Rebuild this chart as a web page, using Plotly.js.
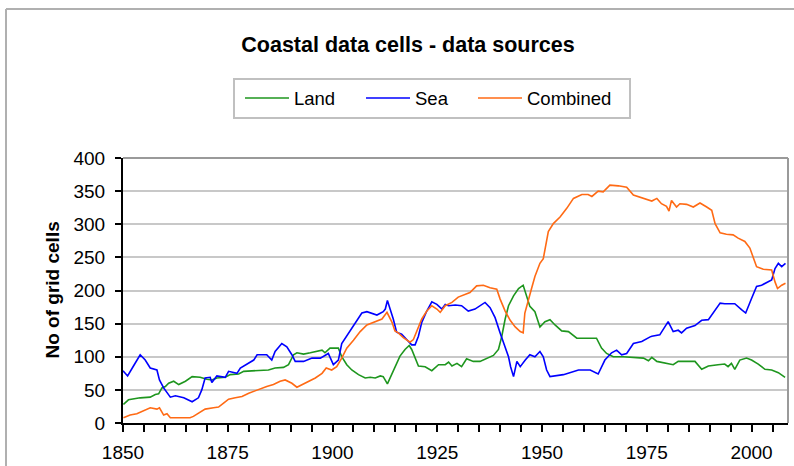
<!DOCTYPE html>
<html>
<head>
<meta charset="utf-8">
<script src="https://cdn.plot.ly/plotly-3.0.1.min.js"></script>
<style>
html,body{margin:0;padding:0;background:#fff;}
#chart{width:794px;height:466px;}
</style>
</head>
<body>
<div id="chart"></div>
<script>
// ---- Data ----
var seriesNames = ["Land", "Sea", "Combined"];

var landYears = [1850.1,1851.3,1854.1,1856.5,1857.7,1858.5,1859.3,1860.1,1860.9,1862.1,1863.3,1864.9,1866.5,1868.4,1870.0,1871.2,1872.4,1874.4,1875.6,1877.6,1878.8,1881.2,1882.7,1884.7,1886.3,1888.3,1889.5,1890.7,1891.5,1893.1,1894.7,1896.3,1897.5,1898.2,1899.4,1901.4,1902.2,1903.4,1904.6,1906.2,1907.8,1909.0,1910.2,1911.4,1912.1,1913.1,1914.2,1915.3,1916.1,1917.3,1918.3,1918.9,1919.7,1920.5,1922.1,1923.7,1925.3,1926.9,1927.7,1928.5,1929.7,1930.8,1932.0,1933.6,1935.2,1936.8,1938.4,1939.6,1940.4,1941.2,1942.0,1943.2,1944.4,1945.5,1946.3,1947.1,1948.3,1949.5,1950.7,1951.9,1953.1,1954.7,1956.3,1958.3,1963.0,1964.2,1965.4,1967.0,1969.4,1971.8,1974.2,1975.4,1976.2,1977.4,1979.3,1981.3,1982.5,1986.5,1988.1,1989.7,1992.0,1993.6,1994.4,1995.2,1996.0,1997.2,1998.8,2000.0,2001.6,2003.2,2004.8,2006.4,2008.0];
var landValues = [28,35,38,39,43,44,53,55,60,63,58,63,70,69,66,65,68,69,73,74,78,79,80,80,83,84,88,103,106,104,106,108,110,106,113,113,100,88,80,73,68,69,68,71,70,59,75,91,101,111,117,111,98,86,85,79,88,88,92,86,90,85,97,93,93,97,102,111,131,157,177,192,203,208,191,176,168,145,153,156,148,139,138,128,128,113,105,100,100,99,98,94,99,93,90,88,93,93,81,86,88,89,85,90,81,95,98,95,89,81,80,76,69];

var seaYears = [1850.0,1851.1,1852.5,1854.1,1855.3,1856.5,1858.1,1858.7,1859.7,1861.3,1862.5,1864.5,1866.5,1868.0,1868.8,1869.6,1870.8,1871.2,1872.4,1874.4,1875.2,1877.2,1878.0,1880.0,1881.2,1882.0,1884.3,1885.5,1886.3,1887.9,1889.1,1890.3,1891.1,1893.1,1895.1,1897.1,1899.0,1900.2,1901.4,1902.2,1903.8,1905.4,1907.0,1908.2,1910.6,1912.1,1912.6,1913.1,1913.8,1914.5,1915.3,1916.5,1917.7,1918.9,1919.7,1920.5,1921.3,1922.5,1923.7,1924.9,1926.1,1926.9,1927.7,1929.3,1930.8,1932.4,1934.0,1935.2,1936.4,1937.6,1938.8,1940.0,1941.2,1942.0,1942.5,1943.2,1944.0,1944.8,1946.0,1947.1,1948.3,1949.5,1950.3,1951.1,1951.9,1955.1,1958.7,1961.5,1963.4,1965.0,1966.6,1967.8,1969.0,1970.2,1971.8,1973.8,1975.8,1976.2,1978.1,1980.1,1981.3,1982.5,1983.3,1984.5,1986.5,1988.1,1989.7,1990.9,1992.5,1993.6,1996.0,1997.6,1998.6,2000.0,2001.2,2002.4,2004.0,2004.8,2005.6,2006.4,2007.2,2008.1];
var seaValues = [79,71,86,103,95,83,80,65,53,39,41,38,32,38,50,68,69,61,71,69,78,75,83,91,95,103,103,95,108,120,115,103,93,93,98,98,105,88,95,120,135,151,166,168,163,168,172,185,172,157,137,134,126,118,118,131,152,169,183,179,172,179,177,178,177,169,172,177,182,174,159,136,116,100,85,70,93,85,95,103,100,108,100,80,70,73,80,80,74,95,106,110,103,105,120,123,130,131,133,153,138,140,136,143,147,155,156,166,181,180,180,171,166,188,206,208,213,216,233,241,236,241];

var combinedYears = [1850.1,1851.7,1853.3,1854.9,1856.5,1858.1,1858.7,1859.7,1860.5,1861.3,1866.0,1866.8,1868.0,1869.6,1871.6,1872.8,1874.0,1875.2,1876.8,1878.4,1880.0,1881.2,1882.3,1884.3,1885.9,1887.5,1888.7,1890.3,1891.5,1893.1,1894.7,1895.9,1897.5,1898.5,1899.8,1901.0,1902.2,1903.4,1905.0,1906.6,1908.2,1910.2,1911.8,1913.0,1914.2,1914.9,1915.7,1916.9,1918.5,1919.3,1920.1,1921.3,1922.5,1923.7,1924.9,1925.7,1926.9,1928.5,1930.0,1931.7,1932.8,1934.4,1936.0,1937.6,1939.2,1940.0,1941.2,1942.4,1943.6,1944.8,1945.5,1945.9,1946.7,1947.5,1948.3,1949.5,1950.3,1950.7,1951.5,1952.7,1954.3,1955.9,1957.5,1959.5,1961.0,1961.9,1963.4,1964.6,1966.2,1968.2,1970.2,1971.8,1973.8,1975.4,1976.2,1977.4,1978.5,1979.7,1980.3,1980.9,1982.1,1982.9,1984.5,1986.1,1987.7,1989.3,1990.5,1991.3,1992.5,1994.0,1995.6,1996.8,1998.4,1999.6,2000.4,2001.2,2002.8,2004.8,2005.6,2006.2,2007.2,2008.1];
var combinedValues = [8,12,14,19,23,21,23,12,14,8,8,10,15,21,23,24,30,36,38,40,45,48,50,55,58,63,65,60,54,59,65,68,75,83,80,85,98,113,125,138,148,153,157,167,152,139,136,129,122,126,139,157,169,177,172,167,177,182,190,195,197,207,208,204,202,187,169,155,145,138,136,166,186,203,221,241,248,264,289,301,311,324,339,345,345,342,350,349,359,358,356,344,340,336,335,339,331,327,320,336,326,331,330,326,332,326,321,301,287,285,284,279,274,264,250,236,232,231,213,203,208,211];

var xTickYears = [1850, 1875, 1900, 1925, 1950, 1975, 2000];
var yTickValues = [0, 50, 100, 150, 200, 250, 300, 350, 400];

var chartTitle = "Coastal data cells - data sources";
var yTitle = "No of grid cells";

// ---- Chart ----
var FONT = "Arial, 'Liberation Sans', sans-serif";
var colors = ["#1e961e", "#0000ff", "#ff6a14"];
var xs = [landYears, seaYears, combinedYears];
var ys = [landValues, seaValues, combinedValues];
var legendIds = ["legend", "legend2", "legend3"];
var legendPx = [250, 371, 483];   // pixel x where each legend sample line starts

// plot area in pixels
var PL = 123, PR = 788, PT = 158, PB = 423;
function px2x(p) { return (p - PL) / (PR - PL); }
function py2y(p) { return (PB - p) / (PB - PT); }

var traces = seriesNames.map(function (n, i) {
  return {
    type: "scatter", mode: "lines", name: n,
    x: xs[i], y: ys[i],
    line: {color: colors[i], width: 1.6},
    legend: legendIds[i],
    hoverinfo: "x+y+name"
  };
});

function legendCfg(i) {
  return {
    orientation: "h",
    x: px2x(legendPx[i] - 10), xanchor: "left",
    y: py2y(98.5), yanchor: "middle",
    bgcolor: "rgba(0,0,0,0)", borderwidth: 0,
    font: {family: FONT, size: 18.5, color: "#000"},
    itemwidth: 44
  };
}

var layout = {
  width: 794, height: 466,
  margin: {l: PL, r: 794 - PR, t: PT, b: 466 - PB, pad: 0},
  paper_bgcolor: "#fff", plot_bgcolor: "#fff",
  font: {family: FONT, color: "#000", size: 19},
  title: {
    text: chartTitle,
    font: {family: FONT, size: 21.5, weight: "bold", color: "#000"},
    x: 408 / 794, xref: "container", xanchor: "center",
    y: 1 - 44 / 466, yref: "container", yanchor: "middle"
  },
  showlegend: true,
  legend: legendCfg(0),
  legend2: legendCfg(1),
  legend3: legendCfg(2),
  xaxis: {
    range: [1850, 2008.7],
    tickvals: xTickYears,
    ticktext: xTickYears.map(String),
    ticks: "outside", ticklen: 7, tickwidth: 2, tickcolor: "#000",
    minor: {dtick: 5, tick0: 1850, ticks: "outside", ticklen: 7, tickwidth: 2, tickcolor: "#000", showgrid: false},
    showline: true, linecolor: "#000", linewidth: 2,
    showgrid: false, zeroline: false,
    tickfont: {family: FONT, size: 19, color: "#000"},
    ticklabelstandoff: 4,
    fixedrange: true
  },
  yaxis: {
    range: [0, 400],
    tickvals: yTickValues,
    ticks: "outside", ticklen: 6, tickwidth: 2, tickcolor: "#000",
    showline: true, linecolor: "#000", linewidth: 2,
    showgrid: true, gridcolor: "#c8c8c8", gridwidth: 2,
    zeroline: false,
    tickfont: {family: FONT, size: 19, color: "#000"},
    ticklabelstandoff: 6,
    fixedrange: true
  },
  annotations: [{
    text: "<b>" + yTitle + "</b>",
    xref: "paper", yref: "paper",
    x: px2x(52), y: 0.5,
    xanchor: "center", yanchor: "middle",
    textangle: -90, showarrow: false,
    font: {family: FONT, size: 19, color: "#000"}
  }],
  shapes: [
    // plot frame (grey top / right)
    {type: "line", xref: "paper", yref: "paper", x0: 0, x1: 1, y0: 1, y1: 1, line: {color: "#9a9a9a", width: 2}},
    {type: "line", xref: "paper", yref: "paper", x0: 1, x1: 1, y0: 0, y1: 1, line: {color: "#9a9a9a", width: 2}},
    // legend box
    {type: "rect", xref: "paper", yref: "paper", x0: px2x(234), x1: px2x(630), y0: py2y(118), y1: py2y(79), line: {color: "#c0c0c0", width: 2}},
    // outer chart border
    {type: "line", xref: "paper", yref: "paper", x0: px2x(6), x1: 1.2, y0: py2y(9), y1: py2y(9), line: {color: "#b0b0b0", width: 2}},
    {type: "line", xref: "paper", yref: "paper", x0: px2x(6), x1: px2x(6), y0: -0.3, y1: py2y(9), line: {color: "#b0b0b0", width: 2}}
  ]
};

Plotly.newPlot("chart", traces, layout, {displayModeBar: false, staticPlot: true});
</script>
</body>
</html>
